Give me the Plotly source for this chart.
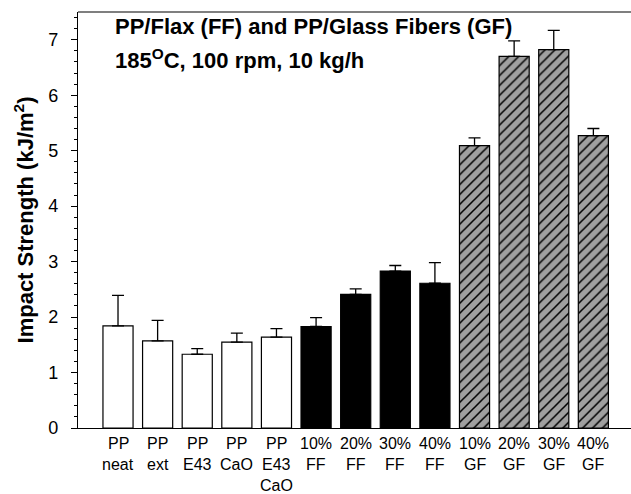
import plotly.graph_objects as go

categories = ["PP neat", "PP ext", "PP E43", "PP CaO", "PP E43 CaO",
              "10% FF", "20% FF", "30% FF", "40% FF",
              "10% GF", "20% GF", "30% GF", "40% GF"]
label_lines = [["PP", "neat"], ["PP", "ext"], ["PP", "E43"], ["PP", "CaO"], ["PP", "E43", "CaO"],
               ["10%", "FF"], ["20%", "FF"], ["30%", "FF"], ["40%", "FF"],
               ["10%", "GF"], ["20%", "GF"], ["30%", "GF"], ["40%", "GF"]]
impact = [1.84, 1.57, 1.33, 1.55, 1.64, 1.83, 2.41, 2.83, 2.61, 5.09, 6.70, 6.82, 5.27]
err_up = [0.55, 0.37, 0.10, 0.16, 0.15, 0.16, 0.10, 0.10, 0.37, 0.14, 0.28, 0.35, 0.13]
groups = ["neat"] * 5 + ["FF"] * 4 + ["GF"] * 4

FONT = "Liberation Sans, Arial, sans-serif"
idx = list(range(len(categories)))

fig = go.Figure()

styles = {
    "neat": dict(color="white", pattern=None),
    "FF": dict(color="black", pattern=None),
    "GF": dict(color="#a0a0a0", pattern=dict(shape="/", fgcolor="black", bgcolor="#a0a0a0",
                                              size=7, solidity=0.22, fillmode="replace")),
}
for g in ["neat", "FF", "GF"]:
    sel = [i for i in idx if groups[i] == g]
    marker = dict(color=styles[g]["color"], line=dict(color="black", width=1.2))
    if styles[g]["pattern"]:
        marker["pattern"] = styles[g]["pattern"]
    fig.add_trace(go.Bar(
        x=sel, y=[impact[i] for i in sel], width=0.76,
        marker=marker,
        error_y=dict(type="data", symmetric=False, array=[err_up[i] for i in sel],
                     arrayminus=[0] * len(sel), color="black", thickness=1.3, width=6),
        showlegend=False,
    ))

# category labels (one annotation per text line)
for i, lines in enumerate(label_lines):
    for k, t in enumerate(lines):
        fig.add_annotation(x=i, y=0, xref="x", yref="paper", text=t, showarrow=False,
                           yanchor="middle", xanchor="center", yshift=-15 - 21 * k,
                           font=dict(family=FONT, size=16, color="black"))

fig.add_annotation(x=0.063, y=0.966, xref="paper", yref="paper", xanchor="left", yanchor="middle",
                   text="<b>PP/Flax (FF) and PP/Glass Fibers (GF)</b>", showarrow=False,
                   font=dict(family=FONT, size=22, color="black"))
fig.add_annotation(x=0.063, y=0.887, xref="paper", yref="paper", xanchor="left", yanchor="middle",
                   text="<b>185<sup>O</sup>C, 100 rpm, 10 kg/h</b>", showarrow=False,
                   font=dict(family=FONT, size=22, color="black"))

# top frame line
fig.add_shape(type="line", xref="paper", yref="paper", x0=0, x1=1, y0=1, y1=1,
              line=dict(color="black", width=1.2))

fig.update_layout(
    width=631, height=494,
    margin=dict(l=78, r=0, t=12, b=66),
    paper_bgcolor="white", plot_bgcolor="white",
    bargap=0.2,
    font=dict(family=FONT, color="black"),
    xaxis=dict(range=[-1.01, 12.95], showgrid=False, zeroline=False, showline=True,
               linecolor="black", linewidth=1.2, showticklabels=False, ticks=""),
    yaxis=dict(range=[0, 7.5], showgrid=False, zeroline=False, showline=True,
               linecolor="black", linewidth=1.2, ticks="outside", ticklen=6, tickwidth=1.2,
               tickcolor="black", dtick=1, tickfont=dict(family=FONT, size=18),
               ticklabelstandoff=9,
               minor=dict(ticks="outside", ticklen=3, tickwidth=1, dtick=0.2, tickcolor="black"),
               title=dict(text="<b>Impact Strength (kJ/m<sup>2</sup>)</b>",
                          font=dict(family=FONT, size=22), standoff=8)),
)

fig.write_html("out.html")
